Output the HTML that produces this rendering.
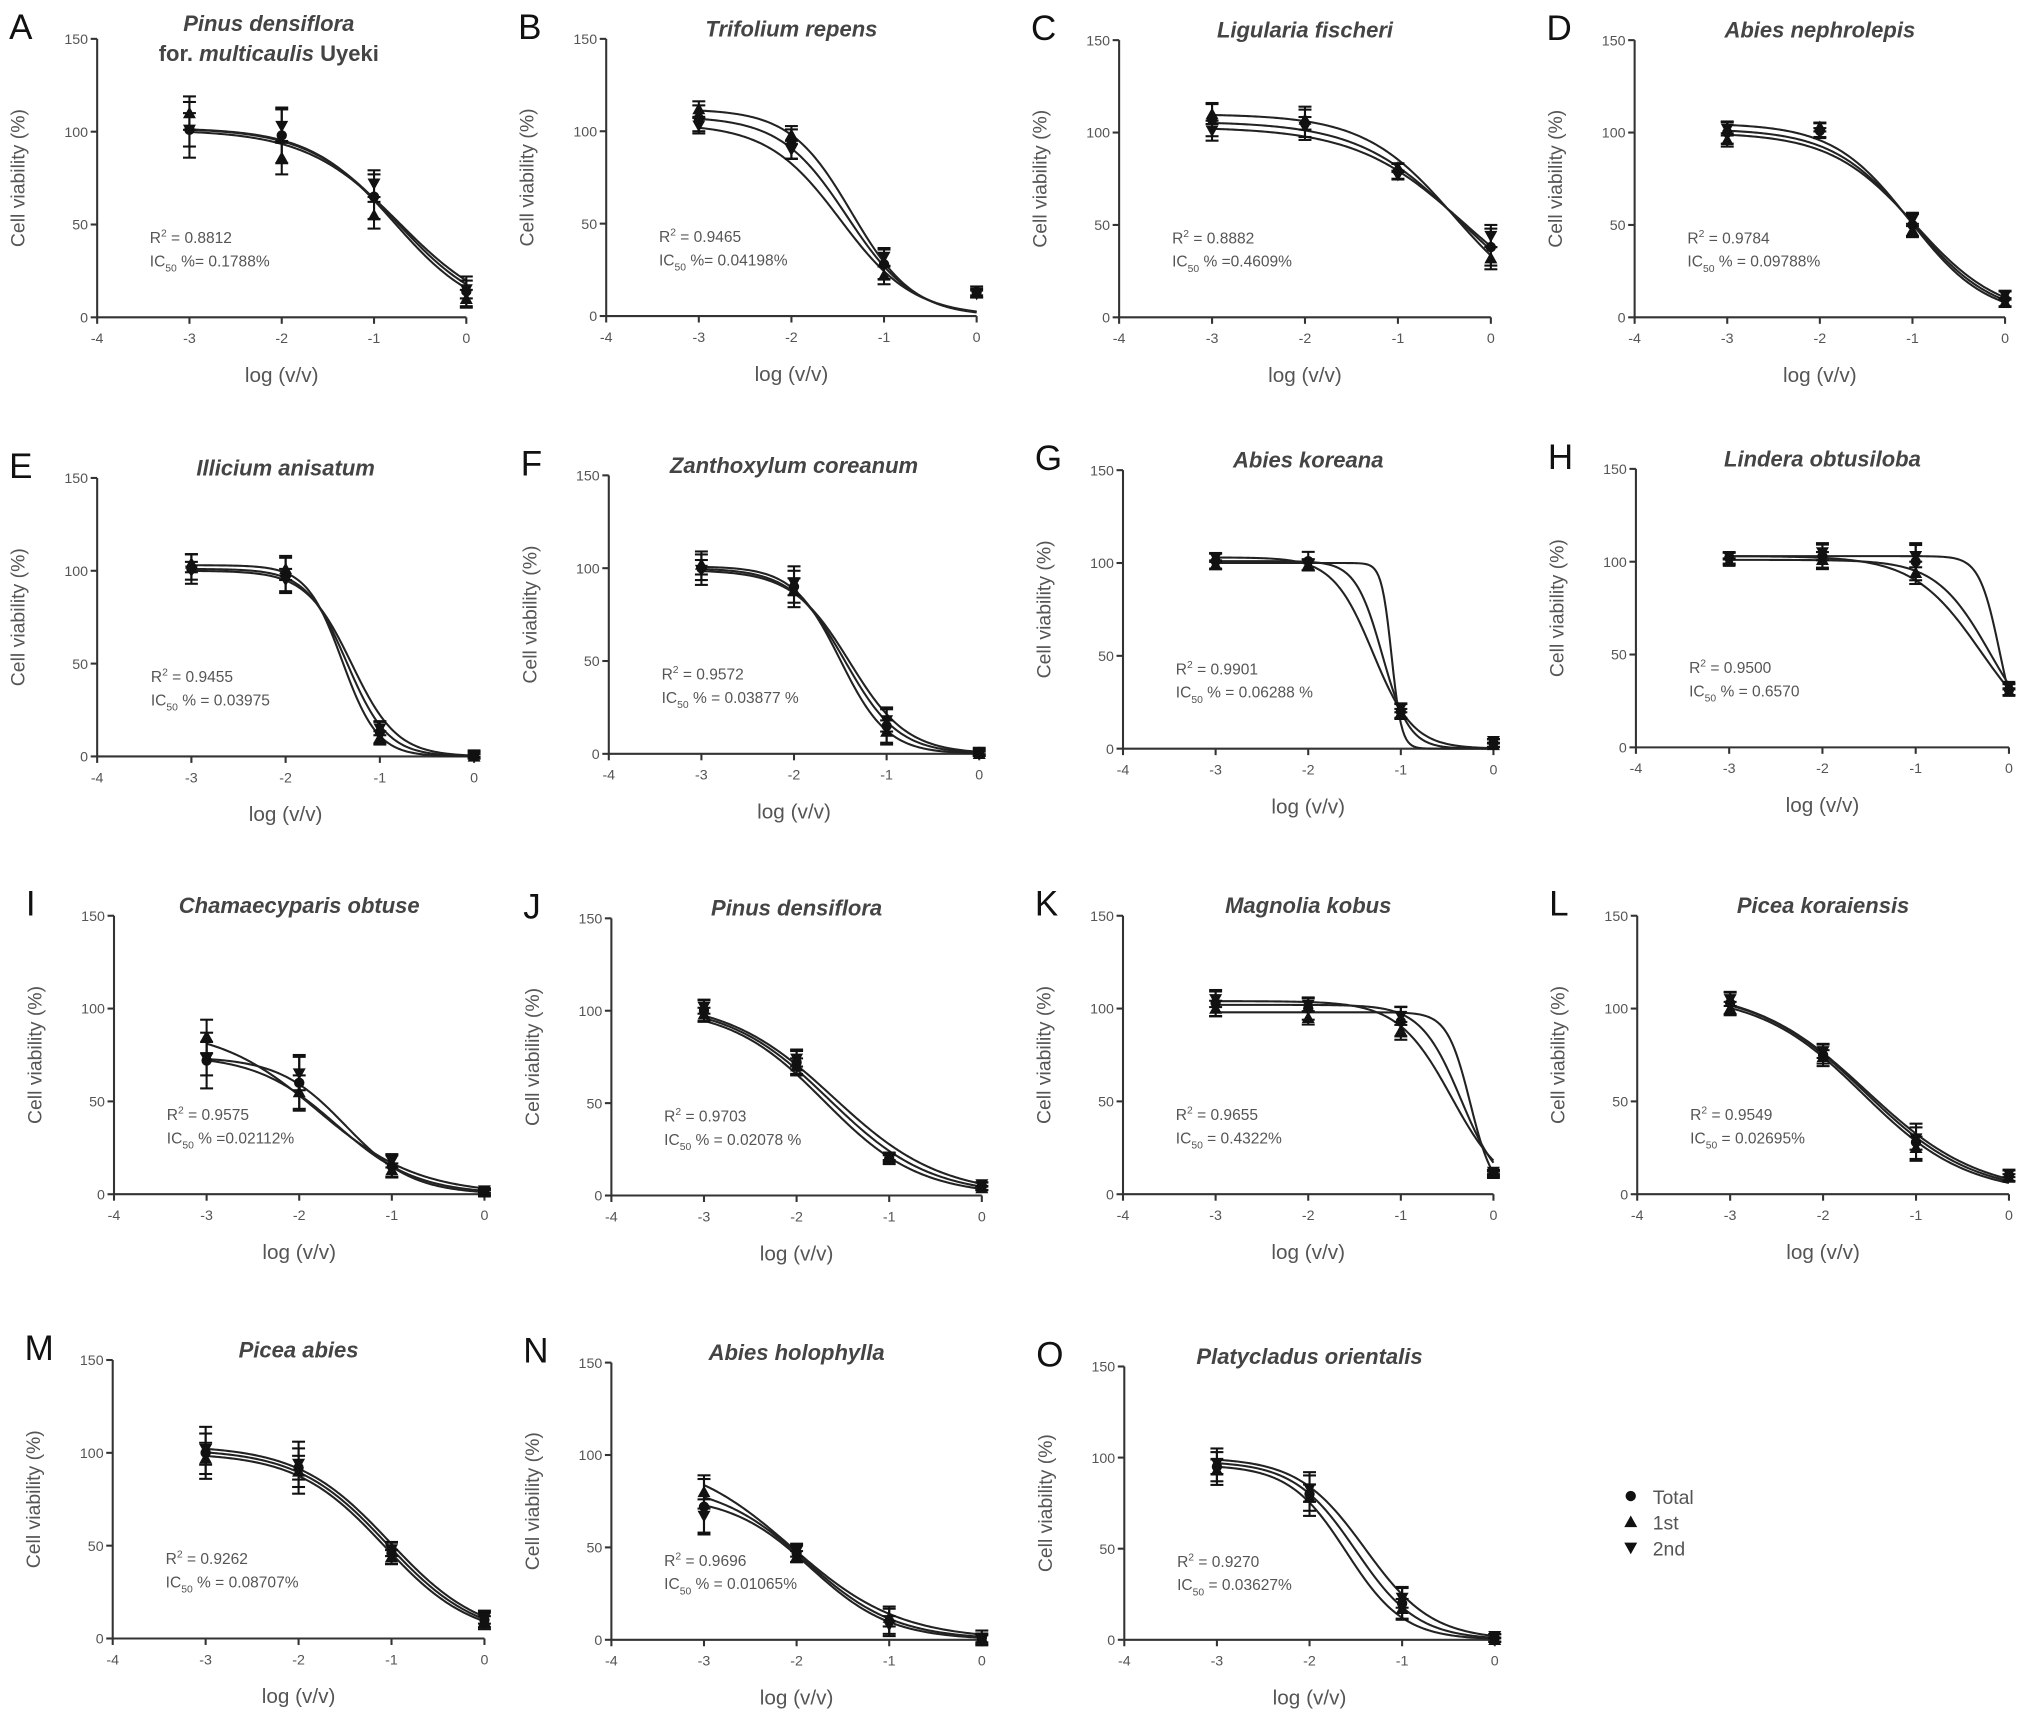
<!DOCTYPE html>
<html><head><meta charset="utf-8"><style>
html,body{margin:0;padding:0;background:#fff;}
svg{display:block;}
text{font-family:"Liberation Sans",sans-serif;}
</style></head><body>
<svg id="fig" width="2031" height="1721" viewBox="0 0 1568 1328.7" xmlns="http://www.w3.org/2000/svg"></svg>
<script>
// Panel metadata
const letters = ["A","B","C","D","E","F","G","H","I","J","K","L","M","N","O"];
const titles = ["Pinus densiflora","Trifolium repens","Ligularia  fischeri","Abies nephrolepis","Illicium  anisatum","Zanthoxylum coreanum","Abies koreana","Lindera  obtusiloba","Chamaecyparis obtuse","Pinus densiflora","Magnolia kobus","Picea koraiensis","Picea abies","Abies holophylla","Platycladus orientalis"];
const r2Values = ["0.8812","0.9465","0.8882","0.9784","0.9455","0.9572","0.9901","0.9500","0.9575","0.9703","0.9655","0.9549","0.9262","0.9696","0.9270"];
const ic50Labels = [" %= 0.1788%"," %= 0.04198%"," % =0.4609%"," % = 0.09788%"," % = 0.03975"," % = 0.03877 %"," % = 0.06288 %"," % = 0.6570"," % =0.02112%"," % = 0.02078 %"," = 0.4322%"," = 0.02695%"," % = 0.08707%"," % = 0.01065%"," = 0.03627%"];
const xDoses = [-3,-2,-1,0];
const xTicks = [-4,-3,-2,-1,0];
const yTicks = [0,50,100,150];
// Observed means per panel: [Total, 1st, 2nd]
const totalVals = [[101,98,65,14],[107,93,28,13],[107,105,79,38],[100,101,50,10],[101,98,13,1],[100,90,15,1],[101,101,20,3],[102,103,100,31],[72,60,15,1],[100,72,20,5],[103,100,93,11],[103,75,28,10],[100,92,46,10],[72,47,10,1],[95,80,20,1]];
const firstVals = [[110,86,55,10],[112,98,22,13],[110,107,81,32],[96,103,47,8],[104,101,10,0],[102,88,12,0],[99,99,19,2],[100,101,94,30],[85,55,13,1],[98,70,20,4],[100,95,88,11],[100,74,25,9],[97,90,44,9],[80,45,12,1],[93,78,17,0]];
const secondVals = [[101,103,72,15],[103,90,32,12],[101,103,77,44],[102,100,53,12],[100,95,15,1],[99,92,18,1],[103,99,22,4],[103,105,103,33],[73,65,18,2],[102,74,21,6],[105,102,96,12],[105,77,30,11],[102,94,48,11],[67,48,8,0],[97,83,23,2]];
const errVals = [[15,15,12,8],[7,8,8,3],[9,9,4,10],[6,4,6,4],[8,10,6,2],[9,11,10,2],[4,5,4,2],[3,7,10,3],[15,15,6,2],[6,7,3,2],[7,6,8,2],[6,6,10,3],[14,14,6,5],[15,5,8,4],[10,12,9,2]];
// Fitted curve parameters [top, logIC50, hill] for 3 series per panel
const curveTop = [[102,102,101],[108,112,104],[106,110,103],[102,105,100],[101,103,100],[100,101,99],[101,100,103],[101,103,103],[75,90,74],[104,102,106],[102,98,104],[110,108,111],[102,100,104],[85,100,78],[98,96,100]];
const curveIC = [[-0.75,-0.78,-0.72],[-1.4,-1.35,-1.47],[-0.35,-0.4,-0.3],[-1.0,-1.03,-0.97],[-1.35,-1.4,-1.3],[-1.45,-1.5,-1.4],[-1.2,-1.1,-1.3],[-0.2,-0.1,-0.3],[-1.6,-1.8,-1.5],[-1.65,-1.7,-1.6],[-0.35,-0.25,-0.45],[-1.55,-1.57,-1.53],[-1.05,-1.08,-1.02],[-1.9,-2.05,-1.85],[-1.5,-1.6,-1.4]];
const curveHill = [[0.9,0.95,0.85],[1.2,1.3,1.1],[0.8,0.9,0.75],[1.0,1.05,0.95],[2.0,2.3,1.8],[1.5,1.7,1.4],[3,8,2],[1.5,4,1.2],[1.0,0.8,1.2],[0.8,0.85,0.75],[2,3.5,1.5],[0.75,0.78,0.72],[0.9,0.92,0.88],[0.9,0.75,1.0],[1.3,1.4,1.2]];
</script>
<script>
const svg = document.getElementById('fig');
const NS = 'http://www.w3.org/2000/svg';
// Layout (display units): [axisX, x0px, y150px, y0px]
const layout = [[75,360,30,245],[468,754,30,244],[864,1151,31,245],[1262,1548,31,245],
[75,366,369,584],[470,756,367,582],[867,1153,363,578],[1263,1551,362,577],
[88,374,707,922],[472,758,709,923],[867,1153,707,922],[1264,1551,707,922],
[87,374,1050,1265],[472,758,1052,1266],[868,1154,1055,1266]];
function mk(tag, attrs, parent){const e=document.createElementNS(NS,tag);for(const k in attrs)e.setAttribute(k,attrs[k]);(parent||svg).appendChild(e);return e;}
function logistic(x,top,ic,h){return top/(1+Math.pow(10,(x-ic)*h));}
function marker(g,type,cx,cy){
  let m;
  if(type===0){m=mk('circle',{cx:cx,cy:cy,r:4,fill:'#111'},g);}
  else if(type===1){m=mk('polygon',{points:`${cx},${cy-5} ${cx-5},${cy+4} ${cx+5},${cy+4}`,fill:'#111'},g);}
  else {m=mk('polygon',{points:`${cx},${cy+5} ${cx-5},${cy-4} ${cx+5},${cy-4}`,fill:'#111'},g);}
  return m;
}
for(let p=0;p<letters.length;p++){
  const [ax,x0,y150,y0]=layout[p];
  const sx=v=>ax+(v+4)*(x0-ax)/4;
  const sy=v=>y0-v*(y0-y150)/150;
  const g=mk('g',{});
  
  
  const L=mk('text',{x:ax-68,y:y150,'font-size':27,fill:'#111'},g);L.textContent=letters[p];
  
  const cx=(ax+x0)/2+(p===0?-10:0);
  const t=mk('text',{x:cx,y:y150-2,'font-size':17,'font-weight':'bold','font-style':'italic','text-anchor':'middle',fill:'#444'},g);
  t.textContent=titles[p];
  
  if(p===0){t.setAttribute('y',y150-6);
    const t2=mk('text',{x:cx,y:y150+17,'font-size':17,'font-weight':'bold','text-anchor':'middle',fill:'#444'},g);
    t2.innerHTML='for. <tspan font-style="italic">multicaulis</tspan> Uyeki';
    }
  // axes
  const axes=mk('g',{stroke:'#333','stroke-width':1.6,fill:'none'},g);
  
  mk('line',{x1:ax,y1:sy(150),x2:ax,y2:y0},axes);
  mk('line',{x1:ax,y1:y0,x2:sx(0),y2:y0},axes);
  yTicks.forEach(v=>{mk('line',{x1:ax-5,y1:sy(v),x2:ax,y2:sy(v)},axes);
    const tt=mk('text',{x:ax-7,y:sy(v)+4,'font-size':11,'text-anchor':'end',fill:'#555'},g);tt.textContent=v;
    });
  xTicks.forEach(v=>{mk('line',{x1:sx(v),y1:y0,x2:sx(v),y2:y0+5},axes);
    const tt=mk('text',{x:sx(v),y:y0+20,'font-size':11,'text-anchor':'middle',fill:'#555'},g);tt.textContent=v;
    });
  const yt=mk('text',{x:0,y:0,'font-size':15,'text-anchor':'middle',fill:'#555',transform:`translate(${ax-56},${sy(75)}) rotate(-90)`},g);
  yt.textContent='Cell viability (%)';
  
  const xt=mk('text',{x:sx(-2),y:y0+50,'font-size':16,'text-anchor':'middle',fill:'#555'},g);
  xt.textContent='log (v/v)';
  
  // stats
  const rx=sx(-3.43), ry=sy(40);
  const r=mk('text',{x:rx,y:ry,'font-size':12,fill:'#555'},g);
  r.innerHTML='R<tspan dy="-5" font-size="8">2</tspan><tspan dy="5"> = '+r2Values[p]+'</tspan>';
  
  const ic=mk('text',{x:rx,y:ry+18,'font-size':12,fill:'#555'},g);
  ic.innerHTML='IC<tspan dy="4" font-size="8">50</tspan><tspan dy="-4">'+ic50Labels[p]+'</tspan>';
  
  // curves
  for(let s=0;s<3;s++){
    let d='';
    for(let i=0;i<=150;i++){const x=-3+3*i/150;const y=logistic(x,curveTop[p][s],curveIC[p][s],curveHill[p][s]);d+=(i?'L':'M')+sx(x).toFixed(2)+','+sy(y).toFixed(2);}
    const c=mk('path',{d:d,stroke:'#222','stroke-width':1.6,fill:'none'},g);
    
    
  }
  // points + error bars
  const series=[totalVals[p],firstVals[p],secondVals[p]];
  for(let s=0;s<3;s++){
    for(let i=0;i<xDoses.length;i++){
      const v=series[s][i], e=errVals[p][i]*(s===0?1:0.6);
      const X=sx(xDoses[i]);
      const eb=mk('g',{stroke:'#111','stroke-width':1.6},g);
      
      mk('line',{x1:X,y1:sy(v-e),x2:X,y2:sy(v+e)},eb);
      mk('line',{x1:X-5,y1:sy(v-e),x2:X+5,y2:sy(v-e)},eb);
      mk('line',{x1:X-5,y1:sy(v+e),x2:X+5,y2:sy(v+e)},eb);
      const m=marker(g,s,X,sy(v));
      
      
    }
  }
}
// legend
const lg=mk('g',{});

const legLabels=['Total','1st','2nd'];
for(let i=0;i<3;i++){
  const y=1155+i*20;
  const m=marker(lg,i,1259,y);
  
  const t=mk('text',{x:1276,y:y+6,'font-size':15,fill:'#555'},lg);
  t.textContent=legLabels[i];
  
}
</script>
</body></html>
